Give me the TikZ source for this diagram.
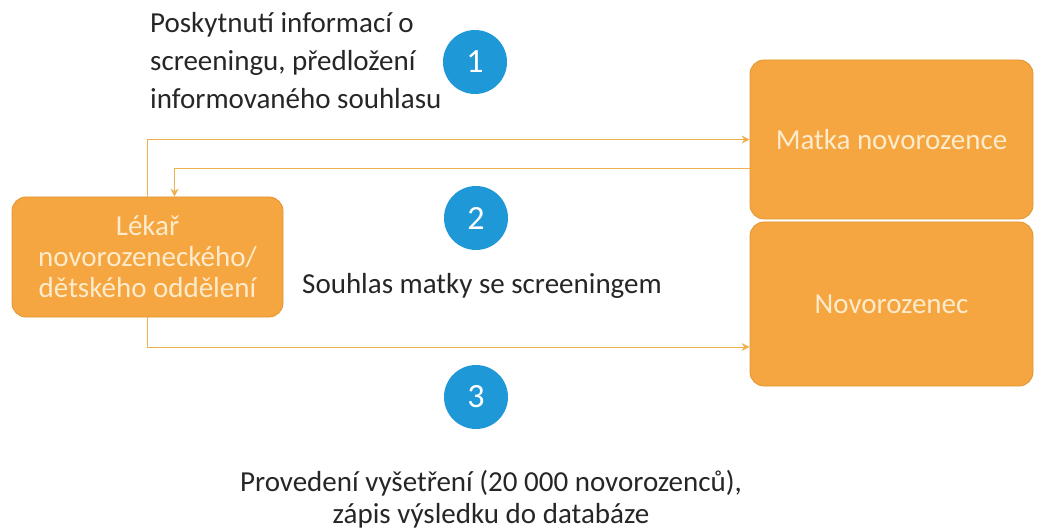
\documentclass[tikz,border=0pt]{standalone}
\usepackage{fontspec}
\setmainfont{Carlito}
\usetikzlibrary{arrows.meta,positioning}

\definecolor{boxorange}{HTML}{F5A641}
\definecolor{boxedge}{HTML}{E0952F}
\definecolor{boxtext}{HTML}{FDEBCB}
\definecolor{flowline}{HTML}{F0B050}
\definecolor{stepblue}{HTML}{1F98D8}

\tikzset{
  party/.style={rectangle, rounded corners=14pt, fill=boxorange, draw=boxedge,
    line width=0.8pt, text=boxtext, align=center, font=\fontsize{29}{31}\selectfont},
  stepnum/.style={circle, fill=stepblue, text=white, minimum size=64pt, inner sep=0pt,
    font=\fontsize{34}{36}\selectfont},
  caption/.style={text=black!85, font=\fontsize{29}{38}\selectfont},
  flow/.style={flowline, line width=0.9pt, -{Stealth[length=8pt,width=8pt]}}
}

\begin{document}
\begin{tikzpicture}[x=1pt, y=-1pt]
        \useasboundingbox (0,0) rectangle (1038,529);
        % participants
        \node [party, minimum width=271pt, minimum height=120pt] (lekar) at (147.5,257)
              {Lékař\\novorozeneckého/\\dětského oddělení};
        \node [party, minimum width=283pt, minimum height=159pt] (matka) at (891.5,139.5) {Matka novorozence};
        \node [party, minimum width=283pt, minimum height=164pt] (novo) at (891.5,304) {Novorozenec};
        % steps
        \node [stepnum] (c1) at (475,62) {1};
        \node [stepnum] (c2) at (476,218) {2};
        \node [stepnum] (c3) at (476,397) {3};
        \node [caption, align=left, anchor=west, inner sep=0pt] (t1) at (150,61)
              {Poskytnutí informací o\\screeningu, předložení\\informovaného souhlasu};
        \node [caption, anchor=west, inner sep=0pt] (t2) at (302,286) {Souhlas matky se screeningem};
        \node [caption, align=center, inner sep=0pt, font=\fontsize{29}{32}\selectfont] (t3) at (491,499)
              {Provedení vyšetření (20 000 novorozenců),\\zápis výsledku do databáze};
        % connectors
        \draw [flow] (lekar.north) |- (matka.west);
        \draw [flow] ([yshift=-29pt]matka.west) -| ([xshift=27pt]lekar.north);
        \draw [flow] (lekar.south) |- ([yshift=-43pt]novo.west);
    \end{tikzpicture}
\end{document}
